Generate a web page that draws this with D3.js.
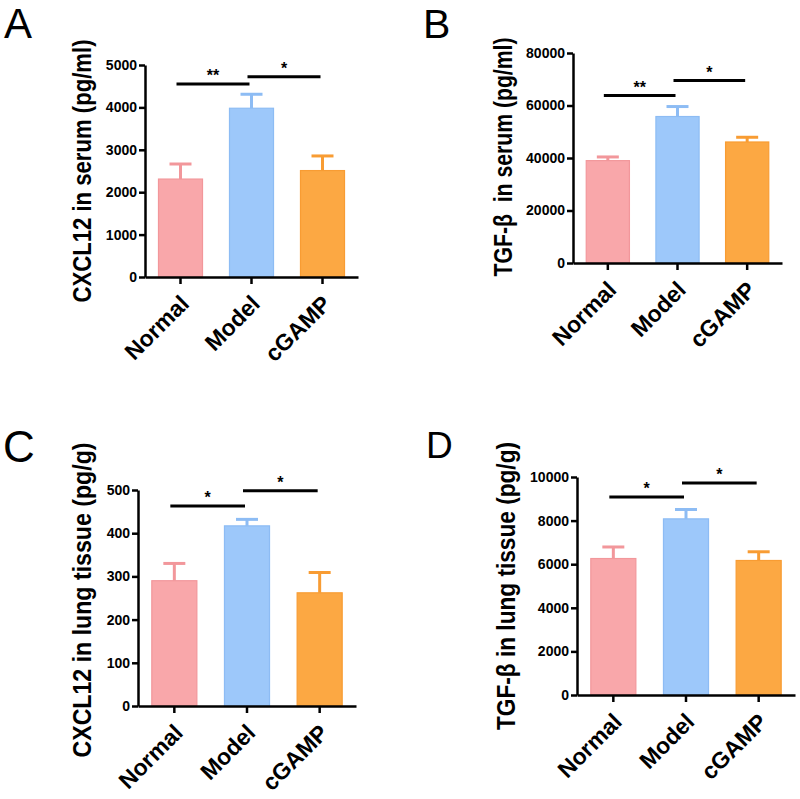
<!DOCTYPE html>
<html>
<head>
<meta charset="utf-8">
<script src="https://cdn.jsdelivr.net/npm/d3@7"></script>
<style>
  body { margin: 0; background: #fff; }
  svg { display: block; }
  text { font-family: Arial, "Liberation Sans", sans-serif; }
</style>
</head>
<body>
<div id="chart"></div>
<script>
// groups shared by all four panels
var groups = ["Normal", "Model", "cGAMP"];

// A - CXCL12 in serum
var cxclSerum = [2310, 3980, 2510];
var cxclSerumErr = [355, 330, 345];
var cxclSerumTicks = [0, 1000, 2000, 3000, 4000, 5000];
var cxclSerumSig = [["**", 0, 1, 4550], ["*", 1, 2, 4720]];

// B - TGF-b in serum
var tgfSerum = [39000, 55800, 46100];
var tgfSerumErr = [1400, 3800, 1800];
var tgfSerumTicks = [0, 20000, 40000, 60000, 80000];
var tgfSerumSig = [["**", 0, 1, 63800], ["*", 1, 2, 69500]];

// C - CXCL12 in lung tissue
var cxclLung = [290, 417, 262];
var cxclLungErr = [40, 15, 47];
var cxclLungTicks = [0, 100, 200, 300, 400, 500];
var cxclLungSig = [["*", 0, 1, 463], ["*", 1, 2, 498]];

// D - TGF-b in lung tissue
var tgfLung = [6260, 8080, 6170];
var tgfLungErr = [530, 430, 400];
var tgfLungTicks = [0, 2000, 4000, 6000, 8000, 10000];
var tgfLungSig = [["*", 0, 1, 9080], ["*", 1, 2, 9720]];

var fills = ["#f9a7aa", "#9dc8fa", "#fca843"];
var strokes = ["#f2979b", "#8dbcf4", "#f89c33"];

var svg = d3.select('#chart').append('svg')
  .attr('width', 800)
  .attr('height', 799);

// layout of each panel, in page pixels
var panels = [
  {letter: "A", lx: 4, ly: 38, ls: 42, title: "CXCL12 in serum (pg/ml)", tx: 82, ty: 171, tl: 263,
   left: 145, right: 358, top: 65, bottom: 277, max: 5000,
   values: cxclSerum, errs: cxclSerumErr, ticks: cxclSerumTicks, sig: cxclSerumSig},
  {letter: "B", lx: 423, ly: 38, ls: 41, title: "TGF-\u03b2  in serum (pg/ml)", tx: 503, ty: 157, tl: 239,
   left: 573, right: 782, top: 53, bottom: 263, max: 80000,
   values: tgfSerum, errs: tgfSerumErr, ticks: tgfSerumTicks, sig: tgfSerumSig},
  {letter: "C", lx: 3, ly: 462, ls: 44, title: "CXCL12 in lung tissue (pg/g)", tx: 82, ty: 600, tl: 315,
   left: 138, right: 356, top: 490, bottom: 706, max: 500,
   values: cxclLung, errs: cxclLungErr, ticks: cxclLungTicks, sig: cxclLungSig},
  {letter: "D", lx: 426, ly: 458, ls: 37, title: "TGF-\u03b2 in lung tissue (pg/g)", tx: 506, ty: 586, tl: 288,
   left: 577, right: 795, top: 477, bottom: 695, max: 10000,
   values: tgfLung, errs: tgfLungErr, ticks: tgfLungTicks, sig: tgfLungSig}
];

panels.forEach(function(p){

  var g = svg.append('g');

  var x = d3.scaleBand()
    .domain(groups)
    .range([p.left, p.right])
    .paddingInner(0.38)
    .paddingOuter(0.19);

  var y = d3.scaleLinear()
    .domain([0, p.max])
    .range([p.bottom, p.top]);

  // panel letter
  g.append('text')
    .attr('x', p.lx)
    .attr('y', p.ly)
    .style('font-size', p.ls + 'px')
    .text(p.letter);

  // bars
  var data = groups.map(function(d, i){ return {name: d, v: p.values[i], e: p.errs[i], i: i}; });

  g.selectAll('rect.bar')
    .data(data)
    .enter()
    .append('rect')
    .attr('class', 'bar')
    .attr('x', function(d){ return x(d.name); })
    .attr('width', x.bandwidth())
    .attr('y', function(d){ return y(d.v); })
    .attr('height', function(d){ return y(0) - y(d.v); })
    .style('fill', function(d){ return fills[d.i]; })
    .style('stroke', function(d){ return strokes[d.i]; })
    .style('stroke-width', 1.2);

  // error bars, upper only
  var err = g.selectAll('g.err')
    .data(data)
    .enter()
    .append('g')
    .attr('class', 'err')
    .style('stroke', function(d){ return strokes[d.i]; })
    .style('stroke-width', 3);

  err.append('line')
    .attr('x1', function(d){ return x(d.name) + x.bandwidth() / 2; })
    .attr('x2', function(d){ return x(d.name) + x.bandwidth() / 2; })
    .attr('y1', function(d){ return y(d.v); })
    .attr('y2', function(d){ return y(d.v + d.e); });

  err.append('line')
    .attr('x1', function(d){ return x(d.name) + x.bandwidth() / 2 - 11; })
    .attr('x2', function(d){ return x(d.name) + x.bandwidth() / 2 + 11; })
    .attr('y1', function(d){ return y(d.v + d.e); })
    .attr('y2', function(d){ return y(d.v + d.e); });

  // y axis
  var yAxis = g.append('g')
    .attr('transform', 'translate(' + p.left + ',0)')
    .call(d3.axisLeft(y).tickValues(p.ticks).tickFormat(d3.format('d')).tickSize(6).tickSizeOuter(0).tickPadding(2));

  // x axis
  var xAxis = g.append('g')
    .attr('transform', 'translate(0,' + p.bottom + ')')
    .call(d3.axisBottom(x).tickSize(7).tickSizeOuter(0));

  [yAxis, xAxis].forEach(function(a){
    a.select('.domain').style('stroke', '#000').style('stroke-width', 2.5);
    a.selectAll('.tick line').style('stroke', '#000').style('stroke-width', 2.5);
  });

  yAxis.selectAll('.tick text')
    .style('font-size', '14px')
    .style('font-weight', 'bold')
    .style('font-family', 'Arial, "Liberation Sans", sans-serif')
    .style('fill', '#000');

  // labels hang at -45 degrees, ending just right of the tick
  xAxis.selectAll('.tick text')
    .attr('x', -13)
    .attr('y', 27)
    .attr('dy', 0)
    .style('text-anchor', 'end')
    .style('font-size', '23px')
    .style('font-weight', 'bold')
    .style('font-family', 'Arial, "Liberation Sans", sans-serif')
    .style('fill', '#000')
    .attr('transform', 'rotate(-45)');

  // y title, glyphs a bit wider across like the source figure
  g.append('text')
    .attr('transform', 'translate(' + p.tx + ',' + p.ty + ') scale(1.15,1) rotate(-90)')
    .attr('text-anchor', 'middle')
    .attr('dy', '0.35em')
    .attr('textLength', p.tl)
    .attr('lengthAdjust', 'spacingAndGlyphs')
    .style('white-space', 'pre')
    .style('font-size', '23px')
    .style('font-weight', 'bold')
    .text(p.title);

  // significance lines and stars
  var sig = g.selectAll('g.sig')
    .data(p.sig)
    .enter()
    .append('g')
    .attr('class', 'sig');

  sig.append('line')
    .attr('x1', function(d){ return x(groups[d[1]]) + x.bandwidth() / 2 - 4; })
    .attr('x2', function(d){ return x(groups[d[2]]) + x.bandwidth() / 2 - 2; })
    .attr('y1', function(d){ return y(d[3]); })
    .attr('y2', function(d){ return y(d[3]); })
    .style('stroke', '#000')
    .style('stroke-width', 3);

  sig.append('text')
    .attr('x', function(d){ return (x(groups[d[1]]) + x(groups[d[2]])) / 2 + x.bandwidth() / 2 - 3; })
    .attr('y', function(d){ return y(d[3]) - 3; })
    .attr('text-anchor', 'middle')
    .style('font-size', '16px')
    .style('font-weight', 'bold')
    .text(function(d){ return d[0]; });
});
</script>
</body>
</html>
